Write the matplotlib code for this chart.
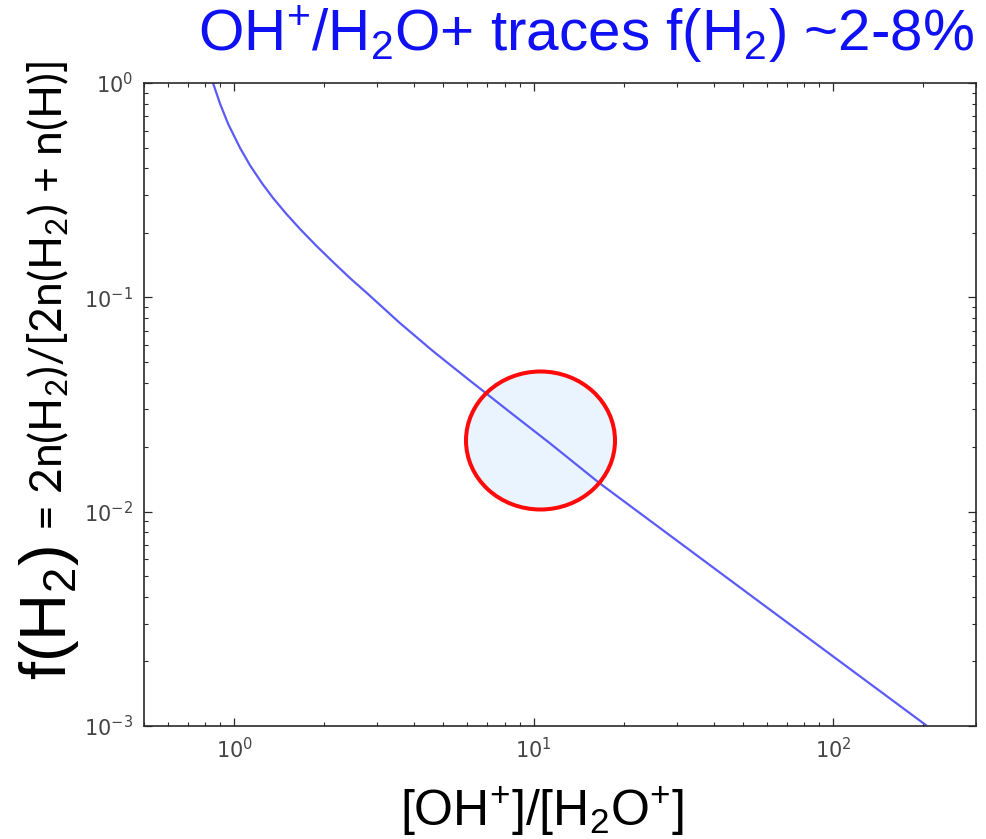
import numpy as np
import matplotlib.pyplot as plt
from matplotlib.path import Path
from matplotlib.transforms import Affine2D

# curve: [OH+]/[H2O+] vs f(H2)
ratio = [0.85, 0.898, 0.955, 1.047, 1.131, 1.24, 1.349, 1.491, 1.66, 1.877, 2.138,
         2.436, 2.775, 3.575, 4.606, 5.978, 8.318, 11.31, 16.6, 58.0, 204.0]
f_h2 = [1.0, 0.798, 0.644, 0.497, 0.412, 0.34, 0.2905, 0.2458, 0.2083, 0.1745, 0.1462,
        0.123, 0.1047, 0.0759, 0.0562, 0.042, 0.0292, 0.0209, 0.01358, 0.00371, 0.00101]

# highlighted region (centre of the circle)
circ_x = [10.5]
circ_y = [0.0216]

fig = plt.figure(figsize=(9.87, 8.39), dpi=100)
ax = fig.add_axes([144/987, 1-726/839, (976-144)/987, (726-83)/839])

ax.set_xscale('log')
ax.set_yscale('log')
ax.set_xlim(0.5, 300)
ax.set_ylim(1e-3, 1)

# slightly squashed circle marker
ell = Path.unit_circle().transformed(Affine2D().scale(1.0, 138/149))
ms = 149 * 72 / 100

ax.plot(circ_x, circ_y, linestyle='none', marker=ell, ms=ms,
        mfc='#eaf4fe', mec='none', zorder=1)
ax.plot(ratio, f_h2, color='#5b5bf7', lw=1.6, zorder=2)
ax.plot(circ_x, circ_y, linestyle='none', marker=ell, ms=ms,
        mfc='none', mec='#ff0a0a', mew=2.9, zorder=3)

for s in ax.spines.values():
    s.set_color('#2a2a2a')
    s.set_linewidth(1.2)
ax.tick_params(which='both', direction='in', top=True, right=True,
               colors='#2a2a2a', labelcolor='#454545', labelsize=15)
ax.tick_params(which='major', length=6, width=0.9, pad=8)
ax.tick_params(which='minor', length=3, width=0.8)

fig.text(586/987, 1-50/839,
         r'OH$\mathregular{^{+}}$/H$\mathregular{_2}$O+ traces f(H$\mathregular{_2}$) ~2-8%',
         color='#1010f5', fontsize=42, family='Liberation Sans',
         ha='center', va='baseline')

fig.text(542/987, 1-826/839,
         r'[OH$\mathregular{^{+}}$]/[H$\mathregular{_2}$O$\mathregular{^{+}}$]',
         color='black', fontsize=36, family='Liberation Sans',
         ha='center', va='baseline')

fig.text(49/987, 1-613/839, r'f(H$\mathregular{_2}$)',
         color='black', fontsize=47, family='Liberation Sans',
         rotation=90, ha='center', va='center')
fig.text(48/987, 1-531/839,
         r'= 2n(H$\mathregular{_2}$)/[2n(H$\mathregular{_2}$) + n(H)]',
         color='black', fontsize=32, family='Lato',
         rotation=90, ha='center', va='bottom')

fig.savefig('out.png', dpi=100)
